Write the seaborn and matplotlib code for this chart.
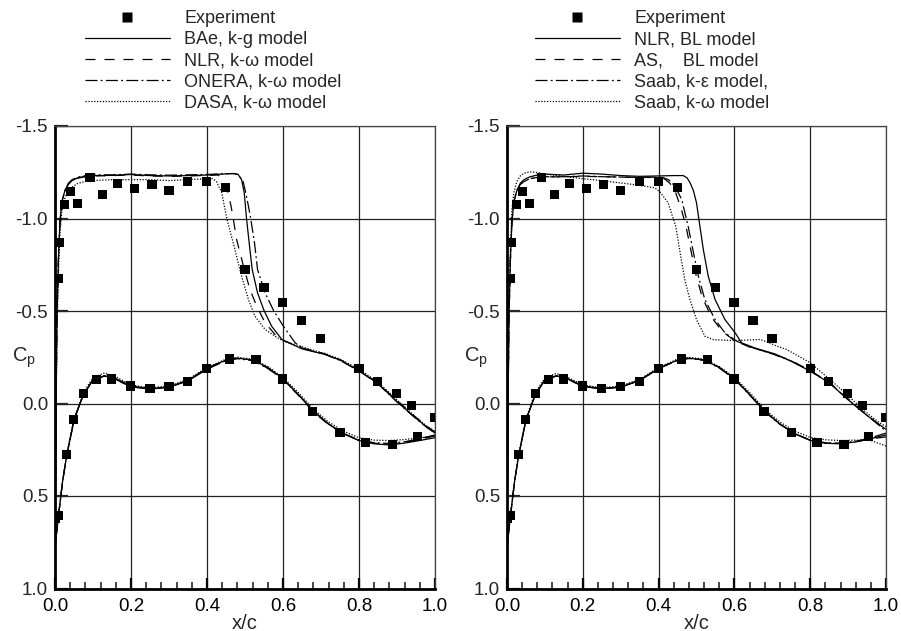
import matplotlib
matplotlib.use("Agg")
import matplotlib.pyplot as plt
from matplotlib.lines import Line2D
from matplotlib.ticker import MultipleLocator
import numpy as np
import pandas as pd
import seaborn as sns

# ---------------- experiment ----------------
exp_up_x = [0.008, 0.011, 0.026, 0.041, 0.06, 0.092, 0.125, 0.165, 0.21, 0.255, 0.30, 0.349,
            0.399, 0.449, 0.50, 0.55, 0.599, 0.649, 0.699, 0.80, 0.849, 0.899, 0.939, 1.0]
exp_up_cp = [-0.676, -0.872, -1.074, -1.144, -1.081, -1.22, -1.128, -1.189, -1.162, -1.184, -1.15, -1.198,
             -1.198, -1.168, -0.724, -0.625, -0.545, -0.447, -0.35, -0.19, -0.117, -0.052, 0.009, 0.076]
exp_lo_x = [0.0, 0.009, 0.031, 0.049, 0.075, 0.11, 0.149, 0.199, 0.25, 0.30, 0.349, 0.399, 0.46,
            0.529, 0.599, 0.678, 0.75, 0.818, 0.889, 0.954]
exp_lo_cp = [0.62, 0.605, 0.277, 0.086, -0.056, -0.128, -0.133, -0.095, -0.079, -0.09, -0.12, -0.189, -0.241,
             -0.236, -0.133, 0.045, 0.155, 0.209, 0.22, 0.178]

# ---------------- lower surface stations (shared) ----------------
lo_x = [0.0, 0.004, 0.009, 0.02, 0.031, 0.05, 0.075, 0.1, 0.13, 0.16, 0.2, 0.25, 0.3, 0.35, 0.4,
        0.45, 0.48, 0.52, 0.56, 0.6, 0.64, 0.68, 0.72, 0.76, 0.8, 0.84, 0.88, 0.92, 0.96, 1.0]

# ---------------- left panel ----------------
bae_up_x = [0.0, 0.002, 0.005, 0.009, 0.013, 0.018, 0.026, 0.035, 0.045, 0.06, 0.08, 0.1, 0.15, 0.2,
            0.25, 0.3, 0.35, 0.4, 0.44, 0.469, 0.482, 0.491, 0.498, 0.504, 0.511, 0.519, 0.533, 0.55,
            0.57, 0.597, 0.649, 0.711, 0.75, 0.8, 0.85, 0.9, 0.95, 0.98, 1.0]
bae_up_cp = [0.78, 0.2, -0.45, -0.78, -0.98, -1.09, -1.15, -1.185, -1.205, -1.22, -1.228, -1.232, -1.233,
             -1.238, -1.232, -1.23, -1.232, -1.235, -1.24, -1.243, -1.238, -1.21, -1.139, -1.0, -0.868,
             -0.724, -0.598, -0.503, -0.418, -0.346, -0.296, -0.265, -0.235, -0.178, -0.108, -0.01,
             0.08, 0.13, 0.16]
bae_lo_cp = [0.78, 0.70, 0.61, 0.42, 0.28, 0.09, -0.05, -0.125, -0.15, -0.135, -0.095, -0.08, -0.088,
             -0.125, -0.19, -0.235, -0.245, -0.235, -0.195, -0.135, -0.05, 0.04, 0.11, 0.165, 0.2,
             0.218, 0.224, 0.214, 0.2, 0.185]

nlr_up_x = [0.0, 0.002, 0.005, 0.009, 0.013, 0.018, 0.026, 0.035, 0.045, 0.06, 0.08, 0.1, 0.15, 0.2,
            0.25, 0.3, 0.35, 0.4, 0.43, 0.445, 0.455, 0.463, 0.469, 0.478, 0.496, 0.513, 0.531, 0.553,
            0.579, 0.605, 0.65, 0.711, 0.75, 0.8, 0.85, 0.9, 0.95, 0.98, 1.0]
nlr_up_cp = [0.78, 0.2, -0.45, -0.78, -0.98, -1.09, -1.15, -1.185, -1.205, -1.218, -1.226, -1.23, -1.232,
             -1.235, -1.23, -1.228, -1.23, -1.233, -1.235, -1.2, -1.14, -1.07, -1.0, -0.886, -0.742,
             -0.616, -0.526, -0.436, -0.373, -0.337, -0.3, -0.268, -0.237, -0.18, -0.11, -0.015,
             0.075, 0.125, 0.155]
nlr_lo_cp = [0.78, 0.70, 0.61, 0.42, 0.28, 0.09, -0.05, -0.13, -0.15, -0.13, -0.09, -0.08, -0.09,
             -0.125, -0.19, -0.235, -0.245, -0.235, -0.19, -0.13, -0.045, 0.045, 0.115, 0.165, 0.2,
             0.215, 0.218, 0.21, 0.195, 0.175]

onera_up_x = [0.0, 0.002, 0.005, 0.009, 0.013, 0.018, 0.026, 0.035, 0.045, 0.06, 0.08, 0.1, 0.15, 0.2,
              0.25, 0.3, 0.35, 0.4, 0.44, 0.47, 0.482, 0.495, 0.503, 0.509, 0.515, 0.525, 0.533, 0.553,
              0.575, 0.601, 0.632, 0.655, 0.711, 0.75, 0.8, 0.85, 0.9, 0.95, 0.98, 1.0]
onera_up_cp = [0.78, 0.2, -0.45, -0.78, -0.98, -1.09, -1.15, -1.19, -1.21, -1.224, -1.232, -1.236,
               -1.236, -1.24, -1.236, -1.234, -1.236, -1.238, -1.242, -1.243, -1.238, -1.2, -1.13,
               -1.067, -1.0, -0.868, -0.724, -0.598, -0.503, -0.418, -0.328, -0.295, -0.265, -0.233,
               -0.176, -0.106, -0.008, 0.082, 0.132, 0.16]
onera_lo_cp = [0.78, 0.70, 0.61, 0.42, 0.28, 0.09, -0.05, -0.125, -0.148, -0.13, -0.09, -0.078, -0.088,
               -0.122, -0.185, -0.232, -0.242, -0.232, -0.19, -0.13, -0.048, 0.042, 0.112, 0.162,
               0.197, 0.212, 0.216, 0.207, 0.19, 0.17]

dasa_up_x = [0.0, 0.002, 0.005, 0.009, 0.013, 0.018, 0.026, 0.035, 0.045, 0.06, 0.08, 0.1, 0.15, 0.2,
             0.25, 0.3, 0.35, 0.4, 0.415, 0.425, 0.439, 0.452, 0.469, 0.491, 0.509, 0.526, 0.553,
             0.579, 0.601, 0.632, 0.66, 0.711, 0.75, 0.8, 0.85, 0.9, 0.95, 0.98, 1.0]
dasa_up_cp = [0.78, 0.25, -0.38, -0.7, -0.92, -1.04, -1.11, -1.15, -1.17, -1.19, -1.2, -1.205, -1.21,
              -1.21, -1.21, -1.205, -1.21, -1.215, -1.215, -1.2, -1.139, -1.0, -0.868, -0.688,
              -0.562, -0.472, -0.4, -0.364, -0.337, -0.319, -0.3, -0.27, -0.24, -0.185, -0.115,
              -0.02, 0.075, 0.125, 0.15]
dasa_lo_cp = [0.78, 0.70, 0.61, 0.42, 0.27, 0.08, -0.06, -0.14, -0.165, -0.145, -0.1, -0.085, -0.095,
              -0.13, -0.195, -0.24, -0.25, -0.24, -0.2, -0.14, -0.06, 0.03, 0.1, 0.15, 0.185, 0.198,
              0.2, 0.195, 0.185, 0.175]

# ---------------- right panel ----------------
nlrbl_up_x = [0.0, 0.002, 0.005, 0.009, 0.013, 0.018, 0.026, 0.035, 0.045, 0.06, 0.08, 0.1, 0.15,
              0.2, 0.25, 0.3, 0.35, 0.4, 0.44, 0.465, 0.475, 0.483, 0.492, 0.5, 0.509, 0.518, 0.531,
              0.549, 0.575, 0.602, 0.619, 0.654, 0.707, 0.75, 0.8, 0.85, 0.9, 0.95, 0.98, 1.0]
nlrbl_up_cp = [0.78, 0.2, -0.45, -0.78, -0.98, -1.09, -1.15, -1.19, -1.21, -1.225, -1.235, -1.24,
               -1.235, -1.245, -1.24, -1.232, -1.228, -1.23, -1.232, -1.232, -1.22, -1.193, -1.15,
               -1.085, -0.958, -0.832, -0.688, -0.562, -0.454, -0.382, -0.328, -0.3, -0.268,
               -0.228, -0.175, -0.112, -0.02, 0.065, 0.11, 0.14]
nlrbl_lo_cp = [0.78, 0.70, 0.61, 0.42, 0.28, 0.09, -0.05, -0.125, -0.15, -0.135, -0.095, -0.08, -0.088,
               -0.125, -0.19, -0.235, -0.245, -0.235, -0.195, -0.135, -0.05, 0.04, 0.11, 0.165, 0.2,
               0.215, 0.218, 0.208, 0.19, 0.17]

as_up_x = [0.0, 0.002, 0.005, 0.009, 0.013, 0.018, 0.026, 0.035, 0.045, 0.06, 0.08, 0.1, 0.15, 0.2,
           0.25, 0.3, 0.35, 0.4, 0.415, 0.43, 0.445, 0.46, 0.472, 0.485, 0.498, 0.515, 0.54, 0.568,
           0.6, 0.64, 0.7, 0.75, 0.8, 0.85, 0.9, 0.95, 0.98, 1.0]
as_up_cp = [0.78, 0.2, -0.45, -0.78, -0.98, -1.09, -1.15, -1.185, -1.2, -1.215, -1.222, -1.225, -1.225,
            -1.228, -1.226, -1.224, -1.222, -1.224, -1.215, -1.19, -1.14, -1.05, -0.96, -0.83, -0.7,
            -0.575, -0.465, -0.39, -0.34, -0.305, -0.27, -0.232, -0.178, -0.115, -0.025, 0.062,
            0.112, 0.145]
as_lo_cp = [0.78, 0.70, 0.61, 0.42, 0.28, 0.09, -0.05, -0.128, -0.15, -0.132, -0.092, -0.08, -0.09,
            -0.126, -0.19, -0.236, -0.246, -0.236, -0.195, -0.135, -0.048, 0.042, 0.112, 0.163, 0.198,
            0.213, 0.216, 0.207, 0.192, 0.18]

saabke_up_x = [0.0, 0.002, 0.005, 0.009, 0.013, 0.018, 0.026, 0.035, 0.045, 0.06, 0.08, 0.1, 0.15,
               0.2, 0.25, 0.3, 0.35, 0.41, 0.426, 0.443, 0.461, 0.478, 0.492, 0.505, 0.522, 0.549,
               0.575, 0.606, 0.65, 0.7, 0.75, 0.8, 0.85, 0.9, 0.95, 0.98, 1.0]
saabke_up_cp = [0.78, 0.2, -0.45, -0.78, -0.98, -1.09, -1.15, -1.185, -1.2, -1.215, -1.222, -1.226,
                -1.226, -1.23, -1.226, -1.224, -1.222, -1.222, -1.21, -1.175, -1.103, -0.958, -0.815,
                -0.688, -0.562, -0.454, -0.382, -0.337, -0.3, -0.268, -0.23, -0.176, -0.113, -0.022,
                0.064, 0.115, 0.15]
saabke_lo_cp = [0.78, 0.70, 0.61, 0.42, 0.28, 0.09, -0.05, -0.126, -0.148, -0.132, -0.092, -0.079,
                -0.089, -0.124, -0.188, -0.233, -0.243, -0.233, -0.192, -0.132, -0.046, 0.044, 0.113,
                0.163, 0.198, 0.212, 0.214, 0.204, 0.185, 0.16]

saabkw_up_x = [0.0, 0.002, 0.005, 0.009, 0.013, 0.018, 0.026, 0.035, 0.045, 0.06, 0.075, 0.1, 0.15,
               0.2, 0.25, 0.3, 0.333, 0.36, 0.39, 0.405, 0.425, 0.445, 0.458, 0.47, 0.483, 0.5, 0.522,
               0.545, 0.6, 0.668, 0.69, 0.712, 0.738, 0.8, 0.852, 0.887, 0.949, 0.98, 1.0]
saabkw_up_cp = [0.78, 0.15, -0.5, -0.85, -1.05, -1.14, -1.2, -1.23, -1.245, -1.252, -1.25, -1.24,
                -1.228, -1.215, -1.205, -1.192, -1.184, -1.176, -1.166, -1.14, -1.085, -0.96, -0.8,
                -0.66, -0.56, -0.454, -0.364, -0.345, -0.34, -0.346, -0.33, -0.31, -0.292, -0.22,
                -0.13, -0.066, 0.05, 0.1, 0.125]
saabkw_lo_cp = [0.78, 0.70, 0.61, 0.42, 0.27, 0.08, -0.06, -0.14, -0.162, -0.142, -0.1, -0.085,
                -0.095, -0.13, -0.195, -0.24, -0.25, -0.24, -0.2, -0.142, -0.06, 0.03, 0.1, 0.15,
                0.183, 0.196, 0.2, 0.198, 0.2, 0.23]

left_models = [
    ("BAe, k-g model", bae_up_x, bae_up_cp, bae_lo_cp, "solid"),
    ("NLR, k-\u03c9 model", nlr_up_x, nlr_up_cp, nlr_lo_cp, "dashed"),
    ("ONERA, k-\u03c9 model", onera_up_x, onera_up_cp, onera_lo_cp, "dashdot"),
    ("DASA, k-\u03c9 model", dasa_up_x, dasa_up_cp, dasa_lo_cp, "dotted"),
]
right_models = [
    ("NLR, BL model", nlrbl_up_x, nlrbl_up_cp, nlrbl_lo_cp, "solid"),
    ("AS,    BL model", as_up_x, as_up_cp, as_lo_cp, "dashed"),
    ("Saab, k-\u03b5 model,", saabke_up_x, saabke_up_cp, saabke_lo_cp, "dashdot"),
    ("Saab, k-\u03c9 model", saabkw_up_x, saabkw_up_cp, saabkw_lo_cp, "dotted"),
]

LW = 0.9
styles = {
    "solid": "-",
    "dashed": (0, (8, 7.2)),
    "dashdot": (0, (9.6, 2.6, 1.5, 2.6)),
    "dotted": (0, (1, 1.3)),
}

sns.set_theme(style="ticks")
plt.rcParams["font.family"] = ["Liberation Sans", "DejaVu Sans"]
plt.rcParams["mathtext.fontset"] = "custom"
plt.rcParams["mathtext.rm"] = "Liberation Sans"
plt.rcParams["mathtext.it"] = "Liberation Sans"

fig = plt.figure(figsize=(9.01, 6.31), dpi=100)
fig.patch.set_facecolor("white")
ax_l = fig.add_axes([55 / 901, (631 - 588.5) / 631, 380 / 901, 462.5 / 631])
ax_r = fig.add_axes([507 / 901, (631 - 588.5) / 631, 379 / 901, 462.5 / 631])

FS_TICK = 13.5
FS_LEG = 13


def draw_panel(ax, models, leg_x):
    for label, ux, ucp, lcp, sty in models:
        xs = list(lo_x[::-1]) + list(ux)
        cps = list(lcp[::-1]) + list(ucp)
        df = pd.DataFrame({"x": xs, "cp": cps})
        sns.lineplot(data=df, x="x", y="cp", ax=ax, sort=False, estimator=None,
                     color="black", lw=LW, linestyle=styles[sty])
    dfe = pd.DataFrame({"x": exp_up_x + exp_lo_x, "cp": exp_up_cp + exp_lo_cp})
    sns.scatterplot(data=dfe, x="x", y="cp", ax=ax, marker="s", s=44, color="black",
                    edgecolor="none", linewidth=0, zorder=5)

    ax.set_xlim(0, 1)
    ax.set_ylim(1.0, -1.5)
    ax.set_xticks([0.0, 0.2, 0.4, 0.6, 0.8, 1.0])
    ax.set_xticklabels(["0.0", "0.2", "0.4", "0.6", "0.8", "1.0"])
    ax.set_yticks([-1.5, -1.0, -0.5, 0.0, 0.5, 1.0])
    ax.set_yticklabels(["-1.5", "-1.0", "-0.5", "0.0", "0.5", "1.0"])
    ax.xaxis.set_minor_locator(MultipleLocator(0.04))
    ax.grid(True, which="major", color="#222222", lw=0.9)
    ax.tick_params(axis="x", which="major", direction="in", length=8, width=1.6,
                   labelsize=FS_TICK, pad=7, top=False, colors="black")
    ax.tick_params(axis="x", which="minor", direction="in", length=5, width=1.2, top=False)
    ax.tick_params(axis="y", which="major", direction="in", length=9, width=1.6,
                   labelsize=FS_TICK, pad=5, right=False)
    for side in ["left", "bottom"]:
        ax.spines[side].set_linewidth(2.0)
        ax.spines[side].set_color("black")
    for side in ["top", "right"]:
        ax.spines[side].set_linewidth(0.9)
        ax.spines[side].set_color("#444444")
    ax.set_xlabel("x/c", fontsize=14.5, labelpad=-1)
    ax.set_ylabel("C$_\\mathregular{p}$", fontsize=14.5, rotation=0, va="center", ha="center")
    ax.yaxis.set_label_coords(-0.082, 0.5)

    handles = [Line2D([], [], marker="s", ms=6.6, color="black", ls="none", mec="none")]
    labels = ["Experiment"]
    for label, ux, ucp, lcp, sty in models:
        handles.append(Line2D([], [], color="black", lw=LW, linestyle=styles[sty]))
        labels.append(label)
    ax.legend(handles, labels, loc="upper left", bbox_to_anchor=(leg_x / 901, (631 - 10) / 631),
              bbox_transform=fig.transFigure, frameon=False, fontsize=FS_LEG, borderpad=0,
              borderaxespad=0, handlelength=4.7, handletextpad=0.8, labelspacing=0.23,
              numpoints=1)


draw_panel(ax_l, left_models, 85)
draw_panel(ax_r, right_models, 535)

fig.savefig("out.png", dpi=100, facecolor="white")
